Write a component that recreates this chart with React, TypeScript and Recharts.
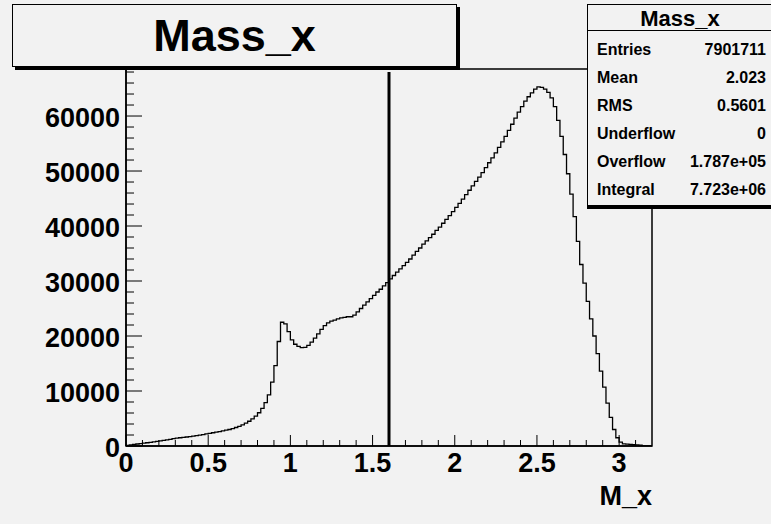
import React from 'react';
import { LineChart, Line, XAxis, YAxis, ReferenceLine, ReferenceArea } from 'recharts';

// histogram Mass_x, 160 bins of 0.02 from 0 to 3.2
const binLow = 0;
const binWidth = 0.02;
const counts = [
  120, 200, 280, 360, 440, 520, 590, 670, 750, 850,
  930, 1020, 1120, 1220, 1330, 1430, 1500, 1570, 1640, 1710,
  1790, 1880, 1980, 2080, 2190, 2300, 2410, 2520, 2630, 2750,
  2870, 3000, 3170, 3360, 3580, 3850, 4150, 4500, 4950, 5450,
  6050, 6850, 7900, 9300, 11600, 14600, 19000, 22500, 22200, 20800,
  19300, 18500, 18100, 17900, 17950, 18300, 18900, 19600, 20400, 21200,
  21900, 22400, 22700, 22900, 23100, 23300, 23400, 23500, 23500, 23800,
  24400, 25000, 25600, 26200, 26800, 27400, 28000, 28500, 29100, 29700,
  30400, 31000, 31600, 32200, 32800, 33400, 34000, 34700, 35400, 36000,
  36700, 37300, 37900, 38500, 39200, 39800, 40500, 41200, 41900, 42600,
  43400, 44100, 44900, 45700, 46500, 47300, 48100, 48900, 49700, 50600,
  51500, 52400, 53300, 54300, 55300, 56300, 57400, 58500, 59600, 60700,
  61700, 62700, 63500, 64200, 64900, 65300, 65200, 64900, 64300, 63300,
  61700, 59200, 56300, 53000, 49500, 45800, 41700, 37200, 33000, 29600,
  26300, 23100, 20000, 16800, 13600, 10700, 7800, 5200, 3000, 1500,
  700, 400, 330, 280, 230, 190, 160, 0, 0, 0,
];

const xMajorTicks = [0, 0.5, 1, 1.5, 2, 2.5, 3];
const xTicks = [
  0, 0.1, 0.2, 0.3, 0.4, 0.5, 0.6, 0.7, 0.8, 0.9, 1, 1.1, 1.2, 1.3, 1.4, 1.5,
  1.6, 1.7, 1.8, 1.9, 2, 2.1, 2.2, 2.3, 2.4, 2.5, 2.6, 2.7, 2.8, 2.9, 3, 3.1,
];
const yMajorTicks = [0, 10000, 20000, 30000, 40000, 50000, 60000];
const yTicks = [
  0, 2000, 4000, 6000, 8000, 10000, 12000, 14000, 16000, 18000, 20000, 22000,
  24000, 26000, 28000, 30000, 32000, 34000, 36000, 38000, 40000, 42000, 44000,
  46000, 48000, 50000, 52000, 54000, 56000, 58000, 60000, 62000, 64000, 66000, 68000,
];
const xMax = 3.2;
const yMax = 68550;
const cutX = 1.6;
const cutTop = 68000;

const statNames = ['Entries', 'Mean', 'RMS', 'Underflow', 'Overflow', 'Integral'];
const statValues = ['7901711', '2.023', '0.5601', '0', '1.787e+05', '7.723e+06'];

const data = counts.map((c, i) => ({ x: binLow + i * binWidth, y: c }));
data.push({ x: xMax, y: counts[counts.length - 1] });

const bg = '#f2f2f2';
const font = '"Liberation Sans", Arial, Helvetica, sans-serif';

const XTick = (props: any) => {
  const { x, y, payload } = props;
  const major = xMajorTicks.includes(payload.value);
  return (
    <g>
      <line x1={x} x2={x} y1={y} y2={y - (major ? 11 : 6)} stroke="#000" strokeWidth={1} />
      {major && (
        <text x={x} y={y + 26} textAnchor="middle" fontSize={27} fontWeight="bold" fontFamily={font} fill="#000">
          {String(payload.value)}
        </text>
      )}
    </g>
  );
};

const YTick = (props: any) => {
  const { x, y, payload } = props;
  const major = yMajorTicks.includes(payload.value);
  return (
    <g>
      <line x1={x} x2={x + (major ? 16 : 8)} y1={y} y2={y} stroke="#000" strokeWidth={1} />
      {major && (
        <text x={x - 6} y={y + 11} textAnchor="end" fontSize={27} fontWeight="bold" fontFamily={font} fill="#000">
          {String(payload.value)}
        </text>
      )}
    </g>
  );
};

export default function App() {
  return (
    <div style={{ position: 'absolute', left: 0, top: 0, width: 771, height: 524, background: bg, fontFamily: font, overflow: 'hidden' }}>
      <LineChart width={771} height={524} data={data} margin={{ top: 69, right: 119, bottom: 0, left: 0 }}>
        <XAxis
          type="number"
          dataKey="x"
          domain={[0, xMax]}
          ticks={xTicks}
          interval={0}
          tickSize={0}
          tickMargin={0}
          tick={<XTick />}
          height={78}
          axisLine={{ stroke: '#000', strokeWidth: 1.5 }}
          allowDataOverflow
        />
        <YAxis
          type="number"
          domain={[0, yMax]}
          ticks={yTicks}
          interval={0}
          tickSize={0}
          tickMargin={0}
          tick={<YTick />}
          width={126}
          axisLine={{ stroke: '#000', strokeWidth: 1.5 }}
          allowDataOverflow
        />
        <ReferenceArea x1={0} x2={xMax} y1={0} y2={yMax} fill="none" stroke="#000" strokeWidth={1.5} fillOpacity={0} />
        <Line type="stepAfter" dataKey="y" stroke="#000" strokeWidth={1.3} dot={false} isAnimationActive={false} />
        <ReferenceLine segment={[{ x: cutX, y: 0 }, { x: cutX, y: cutTop }]} stroke="#000" strokeWidth={3} />
      </LineChart>

      <div style={{ position: 'absolute', left: 652 - 60, top: 483, width: 60, textAlign: 'right', fontSize: 27, fontWeight: 'bold', lineHeight: '27px' }}>
        M_x
      </div>

      <div
        style={{
          position: 'absolute', left: 12, top: 4, width: 443, height: 61,
          border: '1px solid #000', boxShadow: '3px 3px 0 #000', background: bg,
          textAlign: 'center', fontSize: 45, fontWeight: 'bold', lineHeight: '61px',
        }}
      >
        Mass_x
      </div>

      <div
        style={{
          position: 'absolute', left: 587, top: 4, width: 184,
          border: '1px solid #000', borderRight: 'none', boxShadow: '0 3px 0 #000', background: bg, paddingBottom: 1,
        }}
      >
        <div style={{ height: 25, borderBottom: '1px solid #000', textAlign: 'center', fontSize: 22, fontWeight: 'bold', lineHeight: '27px' }}>
          Mass_x
        </div>
        <div style={{ paddingTop: 5 }}>
          {statNames.map((n, i) => (
            <div key={n} style={{ height: 28, display: 'flex', justifyContent: 'space-between', alignItems: 'center', padding: '0 6px 0 9px', fontSize: 16, fontWeight: 'bold' }}>
              <span>{n}</span>
              <span>{statValues[i]}</span>
            </div>
          ))}
        </div>
      </div>
    </div>
  );
}
